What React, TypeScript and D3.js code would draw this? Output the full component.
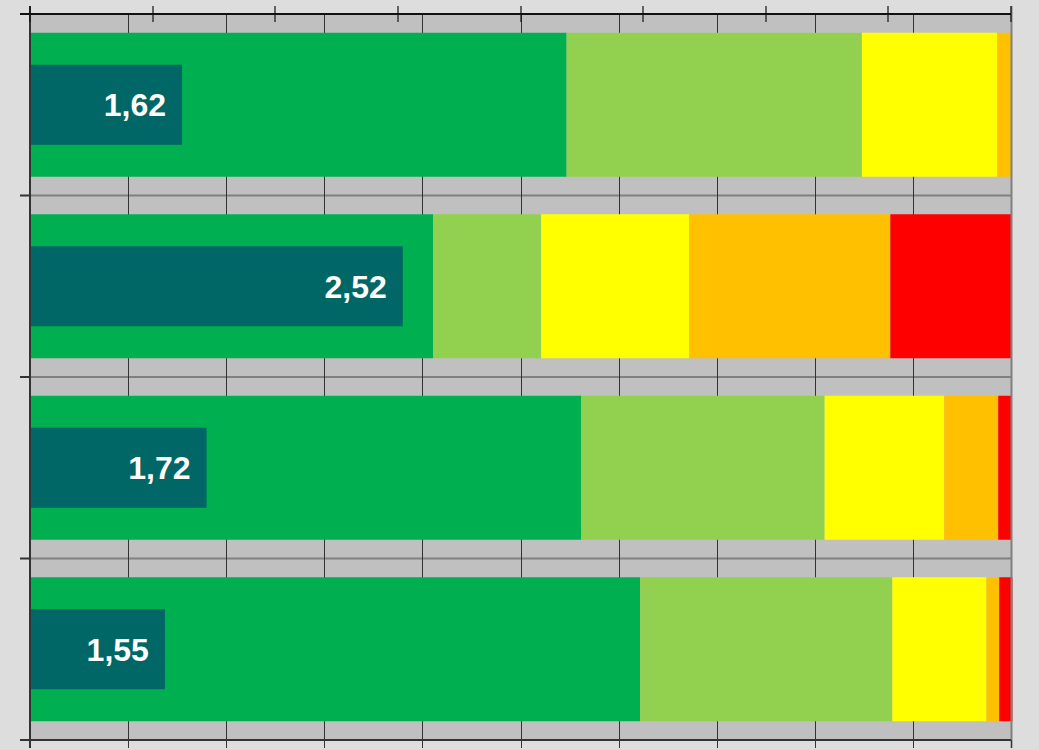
import React from "react";
import * as d3 from "d3";

const categories = ["Item 1", "Item 2", "Item 3", "Item 4"];
const levels = ["1", "2", "3", "4", "5"];
const shares: number[][] = [
  [54.7, 30.1, 13.8, 1.4, 0.0],
  [41.1, 11.0, 15.1, 20.5, 12.3],
  [56.2, 24.8, 12.2, 5.5, 1.3],
  [62.2, 25.7, 9.6, 1.3, 1.35],
];
const means = [1.62, 2.52, 1.72, 1.55];
const meanLabels = ["1,62", "2,52", "1,72", "1,55"];
const pctTicks = [0, 10, 20, 30, 40, 50, 60, 70, 80, 90, 100];
const meanTicks = [1, 1.5, 2, 2.5, 3, 3.5, 4, 4.5, 5];
const colors = ["#00B050", "#92D050", "#FFFF00", "#FFC000", "#FF0000"];

const W = 1039;
const H = 750;
const L = 30;
const R = 1011;
const T = 14;
const B = 740;

export default function App() {
  const x = d3.scaleLinear().domain([0, 100]).range([L, R]);
  const xm = d3.scaleLinear().domain([1, 5]).range([L, R]);
  const y = d3
    .scaleBand<string>()
    .domain(categories)
    .range([T, B])
    .paddingInner(0.2066)
    .paddingOuter(0.1033);
  const ym = d3
    .scaleBand<string>()
    .domain(categories)
    .range([T, B])
    .paddingInner(0.559)
    .paddingOuter(0.2796);
  const step = y.step();
  const boundaries = d3.range(1, categories.length).map((i) => T + i * step);

  return (
    <div style={{ position: "fixed", left: 0, top: 0, width: W, height: H, background: "#DDDDDD" }}>
      <svg width={W} height={H} style={{ display: "block" }}>
        <rect x={0} y={0} width={W} height={H} fill="#DDDDDD" />
        <rect x={L} y={T} width={R - L} height={B - T} fill="#C0C0C0" />
        {boundaries.map((b, i) => (
          <line key={"h" + i} x1={L} x2={R} y1={b} y2={b} stroke="#808080" strokeWidth={2} />
        ))}
        {pctTicks.slice(1, -1).map((t) => (
          <line key={"v" + t} x1={Math.round(x(t)) + 0.5} x2={Math.round(x(t)) + 0.5} y1={T} y2={B + 8} stroke="#333333" strokeWidth={1} />
        ))}
        {categories.map((c, ci) => {
          const stack = d3.cumsum(shares[ci]);
          return shares[ci].map((v, si) => {
            const x0 = x(stack[si] - v);
            const x1 = x(stack[si]);
            if (v <= 0) return null;
            return (
              <rect
                key={c + si}
                x={x0}
                y={y(c)}
                width={x1 - x0}
                height={y.bandwidth()}
                fill={colors[si]}
              />
            );
          });
        })}
        {categories.map((c, ci) => (
          <g key={"m" + c}>
            <rect x={L} y={ym(c)} width={xm(means[ci]) - L} height={ym.bandwidth()} fill="#006666" />
            <text
              x={xm(means[ci]) - 16}
              y={(ym(c) as number) + ym.bandwidth() / 2}
              dy="0.36em"
              textAnchor="end"
              fill="#FFFFFF"
              fontFamily="'Liberation Sans', Arial, sans-serif"
              fontWeight="bold"
              fontSize={32}
            >
              {meanLabels[ci]}
            </text>
          </g>
        ))}
        <line x1={R + 0.5} x2={R + 0.5} y1={6} y2={B + 8} stroke="#808080" strokeWidth={2} />
        <line x1={L} x2={L} y1={6} y2={B + 8} stroke="#333333" strokeWidth={2} />
        {boundaries.map((b, i) => (
          <line key={"lt" + i} x1={20} x2={L} y1={b} y2={b} stroke="#333333" strokeWidth={2} />
        ))}
        <line x1={20} x2={R} y1={T} y2={T} stroke="#111111" strokeWidth={2} />
        {meanTicks.map((t) => (
          <line key={"tt" + t} x1={Math.round(xm(t))} x2={Math.round(xm(t))} y1={6} y2={22} stroke="#111111" strokeWidth={1.2} />
        ))}
        <line x1={20} x2={R} y1={B} y2={B} stroke="#333333" strokeWidth={2} />
        {pctTicks.map((t) => (
          <line key={"bt" + t} x1={Math.round(x(t)) + 0.5} x2={Math.round(x(t)) + 0.5} y1={B} y2={B + 8} stroke="#333333" strokeWidth={1} />
        ))}
      </svg>
    </div>
  );
}
